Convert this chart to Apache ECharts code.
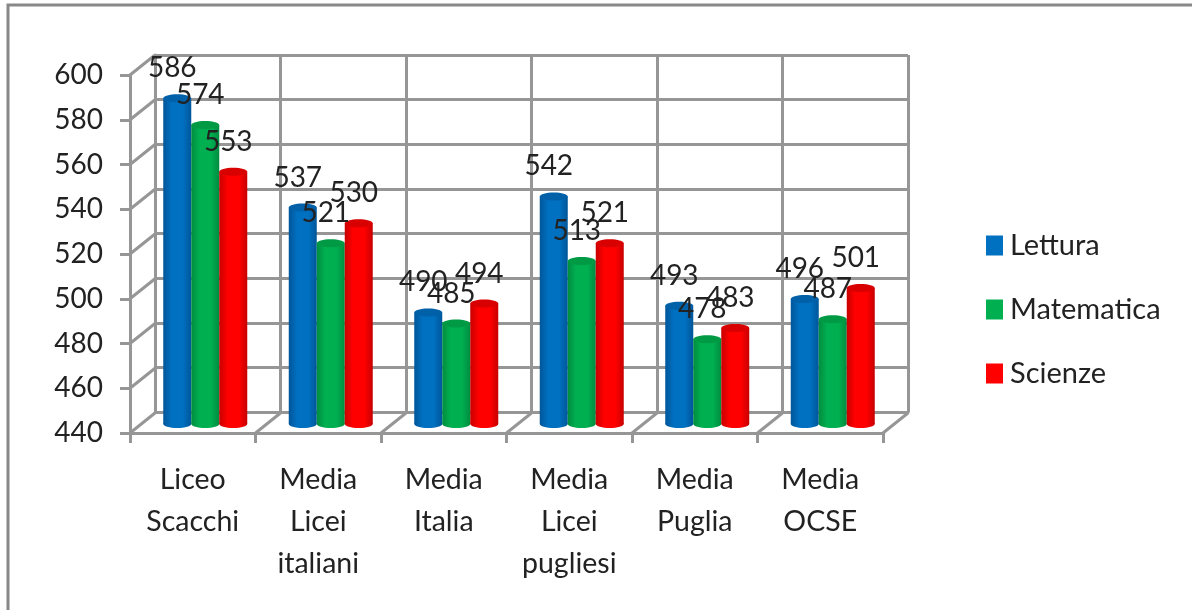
<!DOCTYPE html>
<html>
<head>
<meta charset="utf-8">
<script src="https://cdn.jsdelivr.net/npm/echarts@6/dist/echarts.min.js"></script>
<style>
  html, body { margin: 0; padding: 0; background: #fff; overflow: hidden; }
  #chart { width: 1192px; height: 610px; }
</style>
</head>
<body>
<div id="chart"></div>
<script>
var categories = ['Liceo\nScacchi', 'Media\nLicei\nitaliani', 'Media\nItalia', 'Media\nLicei\npugliesi', 'Media\nPuglia', 'Media\nOCSE']
var yTicks = [440, 460, 480, 500, 520, 540, 560, 580, 600]
var lettura = [586, 537, 490, 542, 493, 496]
var matematica = [574, 521, 485, 513, 478, 487]
var scienze = [553, 530, 494, 521, 483, 501]

var fontName = 'Lato, sans-serif'
var textColor = '#222222'
var gridColor = '#969696'
var barWidth = 28
var depthX = 25
var depthY = -20

// 3 piani: fronte (assi), fondo (griglia), centro (barre)
var planes = [
  { left: 130, top: 75, width: 753, height: 358 },
  { left: 155, top: 55, width: 753, height: 357 },
  { left: 142.5, top: 67, width: 753, height: 357 }
]

function cylinder(colors, offset) {
  return function(params, api) {
    var p = api.coord([api.value(0), api.value(1)])
    var base = api.coord([api.value(0), 440])
    var cx = p[0] + offset * barWidth
    var rx = barWidth / 2
    var ry = 4
    var body = new echarts.graphic.LinearGradient(0, 0, 1, 0, [
      { offset: 0, color: colors.edge },
      { offset: 0.3, color: colors.base },
      { offset: 0.7, color: colors.base },
      { offset: 1, color: colors.edge }
    ])
    return {
      type: 'group',
      children: [
        { type: 'ellipse', shape: { cx: cx, cy: base[1], rx: rx, ry: ry }, style: { fill: body } },
        { type: 'rect', shape: { x: cx - rx, y: p[1], width: barWidth, height: base[1] - p[1] }, style: { fill: body } },
        { type: 'ellipse', shape: { cx: cx, cy: p[1], rx: rx, ry: ry }, style: { fill: colors.top } },
        {
          type: 'text',
          z2: 100,
          style: {
            text: String(api.value(1)),
            x: cx - 5,
            y: p[1] - 30,
            align: 'center',
            verticalAlign: 'middle',
            fill: textColor,
            font: '28px ' + fontName
          }
        }
      ]
    }
  }
}

function barSeries(name, values, colors, offset) {
  return {
    name: name,
    type: 'custom',
    xAxisIndex: 2,
    yAxisIndex: 2,
    clip: false,
    z: 5,
    itemStyle: { color: colors.base },
    encode: { x: 0, y: 1 },
    data: values.map(function(v, i) { return [i, v] }),
    renderItem: cylinder(colors, offset)
  }
}

function depthLine(p) {
  return {
    type: 'line',
    shape: { x1: p[0], y1: p[1], x2: p[0] + depthX, y2: p[1] + depthY },
    style: { stroke: gridColor, lineWidth: 3 }
  }
}

var option = {
  backgroundColor: '#ffffff',
  animation: false,
  textStyle: { fontFamily: fontName },
  graphic: [{
    type: 'rect',
    silent: true,
    shape: { x: 8, y: 5, width: 1400, height: 900 },
    style: { fill: 'none', stroke: '#888888', lineWidth: 3 }
  }],
  legend: {
    data: ['Lettura', 'Matematica', 'Scienze'],
    orient: 'vertical',
    left: 986,
    top: 231,
    padding: 0,
    icon: 'rect',
    itemWidth: 17,
    itemHeight: 20,
    itemGap: 35,
    selectedMode: false,
    textStyle: { fontSize: 29, color: textColor, fontFamily: fontName, padding: [0, 0, 0, 2] }
  },
  grid: planes,
  xAxis: planes.map(function(pl, i) {
    return {
      type: 'category',
      gridIndex: i,
      data: categories,
      show: i < 2,
      axisLine: { show: true, onZero: false, lineStyle: { color: gridColor, width: 3 } },
      axisTick: { show: i === 0, length: 10, lineStyle: { color: gridColor, width: 3 } },
      axisLabel: {
        show: i === 0,
        interval: 0,
        margin: 26,
        fontSize: 28.5,
        lineHeight: 42,
        color: textColor,
        fontFamily: fontName
      },
      splitLine: { show: i === 1, interval: 0, lineStyle: { color: gridColor, width: 3 } }
    }
  }),
  yAxis: planes.map(function(pl, i) {
    return {
      type: 'value',
      gridIndex: i,
      min: 440,
      max: 600,
      interval: 20,
      show: i < 2,
      axisLine: { show: true, lineStyle: { color: gridColor, width: 3 } },
      axisTick: { show: i === 0, length: 10, lineStyle: { color: gridColor, width: 3 } },
      axisLabel: { show: i === 0, margin: 27, fontSize: 28, color: textColor, fontFamily: fontName },
      splitLine: { show: i === 1, lineStyle: { color: gridColor, width: 3 } }
    }
  }),
  series: [
    {
      // diagonali parete sinistra
      type: 'custom',
      xAxisIndex: 0,
      yAxisIndex: 0,
      silent: true,
      clip: false,
      z: 1,
      encode: { y: 0 },
      data: yTicks,
      renderItem: function(params, api) {
        var p = api.coord([0, api.value(0)])
        return depthLine([p[0] - api.size([1, 0])[0] / 2, p[1]])
      }
    },
    {
      // diagonali pavimento
      type: 'custom',
      xAxisIndex: 0,
      yAxisIndex: 0,
      silent: true,
      clip: false,
      z: 1,
      encode: { x: 0 },
      data: categories.map(function(c, i) { return [i] }),
      renderItem: function(params, api) {
        var p = api.coord([api.value(0), 440])
        return depthLine([p[0] + api.size([1, 0])[0] / 2, p[1]])
      }
    },
    barSeries('Lettura', lettura, { base: '#0070c0', edge: '#00569a', top: '#0060a8' }, -1),
    barSeries('Matematica', matematica, { base: '#00b050', edge: '#008c40', top: '#009a45' }, 0),
    barSeries('Scienze', scienze, { base: '#ff0000', edge: '#c80000', top: '#d80000' }, 1)
  ]
}

var myChart = echarts.init(document.getElementById('chart'))
myChart.setOption(option)
</script>
</body>
</html>
